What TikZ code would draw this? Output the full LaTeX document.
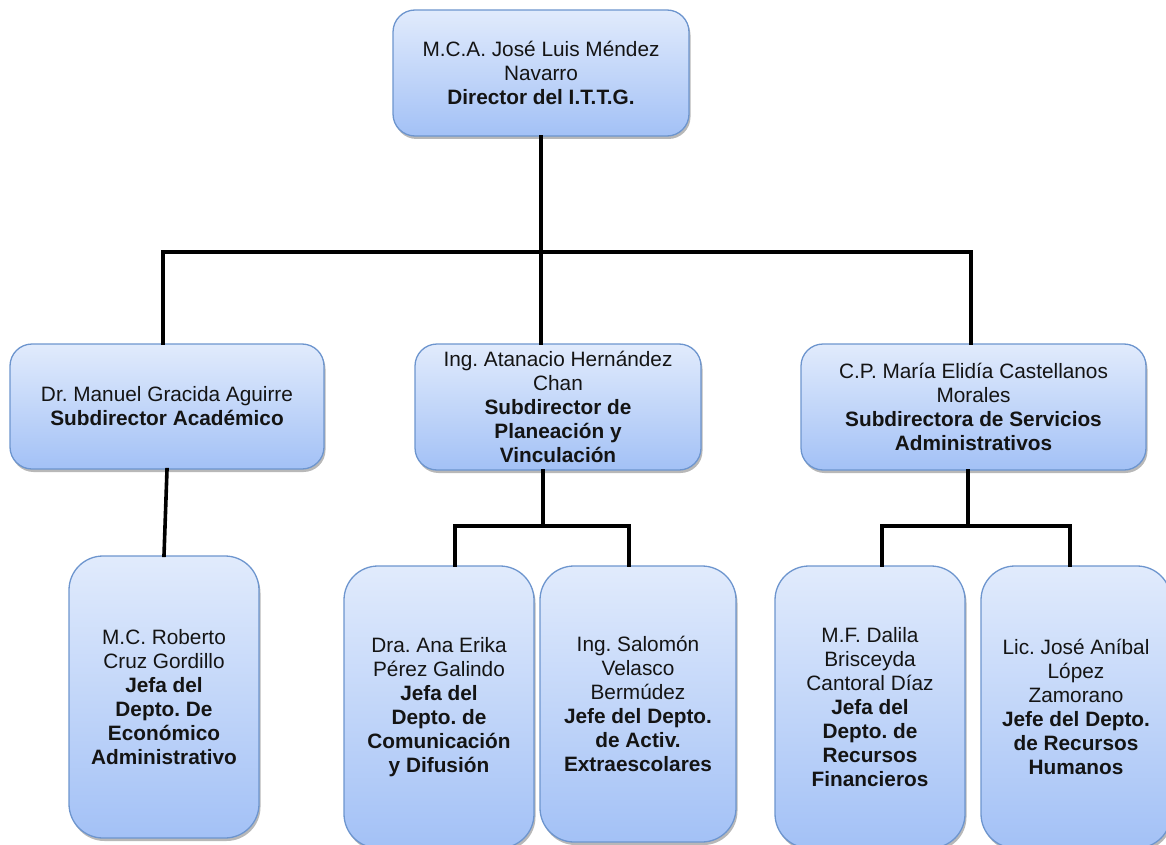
\documentclass[tikz,border=0pt]{standalone}
\usepackage{fontspec}
\setmainfont{Liberation Sans}
\usetikzlibrary{shadows}
\frenchspacing
\definecolor{boxtop}{HTML}{E1EBFC}
\definecolor{boxbot}{HTML}{A3C1F6}
\definecolor{boxline}{HTML}{6D95CE}
\definecolor{txt}{HTML}{141414}
\tikzset{
  x=1pt, y=-1pt,
  orgbox/.style={draw=boxline, line width=1.3pt, top color=boxtop, bottom color=boxbot,
    rounded corners=22pt, align=center, inner sep=0pt, text=txt,
    font=\fontsize{20.8}{24}\selectfont,
    drop shadow={shadow xshift=1.5pt, shadow yshift=-3pt, opacity=0.28, fill=black}},
  tallbox/.style={orgbox, rounded corners=34pt},
  link/.style={line width=3.6pt, black, line cap=rect},
}
\begin{document}
\begin{tikzpicture}
\useasboundingbox (0,0) rectangle (1166,845);

% director
\node[orgbox, minimum width=296pt, minimum height=126pt] (dir) at (541,73)
  {M.C.A. José Luis Méndez\\Navarro\\\textbf{Director del I.T.T.G.}};

% subdirectors
\node[orgbox, minimum width=314pt, minimum height=125pt] (sa) at (167,406.5)
  {Dr. Manuel Gracida Aguirre\\\textbf{Subdirector Académico}};
\node[orgbox, minimum width=286pt, minimum height=126pt] (spv) at (558,407)
  {Ing. Atanacio Hernández\\Chan\\\textbf{Subdirector de}\\\textbf{Planeación y}\\\textbf{Vinculación}};
\node[orgbox, minimum width=345pt, minimum height=126pt] (ssa) at (973.5,407)
  {C.P. María Elidía Castellanos\\Morales\\\textbf{Subdirectora de Servicios}\\\textbf{Administrativos}};

% department heads
\node[tallbox, minimum width=190pt, minimum height=282pt] (jea) at (164,697)
  {M.C. Roberto\\Cruz Gordillo\\\textbf{Jefa del}\\\textbf{Depto. De}\\\textbf{Económico}\\\textbf{Administrativo}};
\node[tallbox, minimum width=190pt, minimum height=282pt] (jcd) at (439,707)
  {Dra. Ana Erika\\Pérez Galindo\\\textbf{Jefa del}\\\textbf{Depto. de}\\\textbf{Comunicación}\\\textbf{y Difusión}};
\node[tallbox, minimum width=196pt, minimum height=276pt] (jae) at (638,704)
  {Ing. Salomón\\Velasco\\Bermúdez\\\textbf{Jefe del Depto.}\\\textbf{de Activ.}\\\textbf{Extraescolares}};
\node[tallbox, minimum width=190pt, minimum height=282pt] (jrf) at (870,707)
  {M.F. Dalila\\Brisceyda\\Cantoral Díaz\\\textbf{Jefa del}\\\textbf{Depto. de}\\\textbf{Recursos}\\\textbf{Financieros}};
\node[tallbox, minimum width=190pt, minimum height=282pt] (jrh) at (1076,707)
  {Lic. José Aníbal\\López\\Zamorano\\\textbf{Jefe del Depto.}\\\textbf{de Recursos}\\\textbf{Humanos}};

% bus coordinates
\coordinate (busL) at (163,252);
\coordinate (busC) at (541,252);
\coordinate (busR) at (971,252);
\coordinate (busM) at (543,526);
\coordinate (busML) at (455,526);
\coordinate (busMR) at (629,526);
\coordinate (busS) at (968,526);
\coordinate (busSL) at (882,526);
\coordinate (busSR) at (1070,526);

% top level connectors
\draw[link] (dir.south -| busC) -- (busC);
\draw[link] (busL |- sa.north) -- (busL) -- (busR) -- (busR |- ssa.north);
\draw[link] (busC) -- (busC |- spv.north);

% academic branch
\draw[link] (sa.south) -- (jea.north);

% planning branch
\draw[link] (spv.south -| busM) -- (busM);
\draw[link] (busML |- jcd.north) -- (busML) -- (busMR) -- (busMR |- jae.north);

% services branch
\draw[link] (ssa.south -| busS) -- (busS);
\draw[link] (busSL |- jrf.north) -- (busSL) -- (busSR) -- (busSR |- jrh.north);
\end{tikzpicture}
\end{document}
